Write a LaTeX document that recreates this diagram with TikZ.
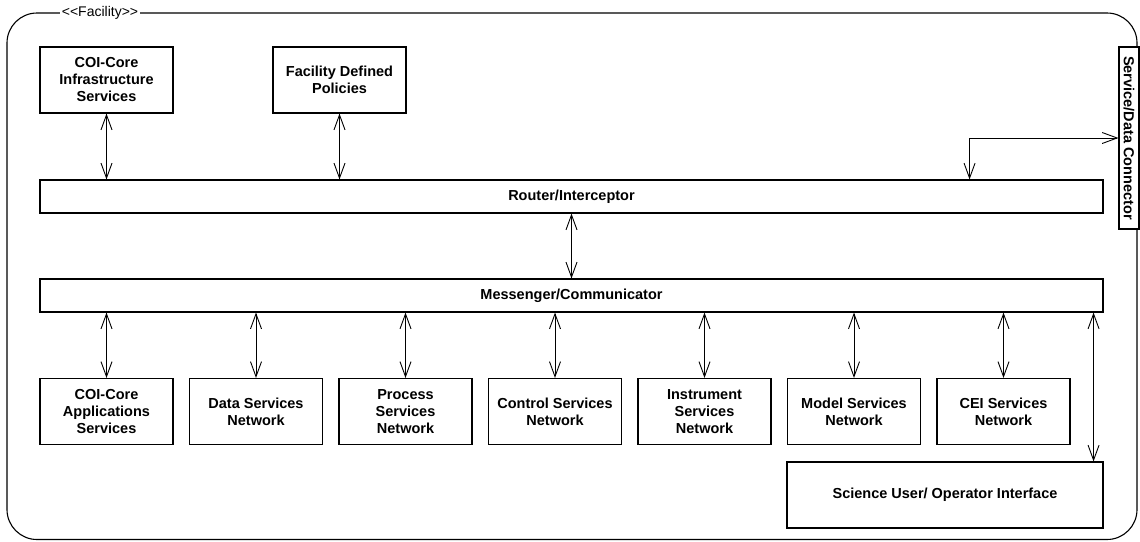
\documentclass[tikz,border=0pt]{standalone}
\usepackage{fontspec}
\setmainfont{Liberation Sans}
\usetikzlibrary{arrows.meta}
\begin{document}
\begin{tikzpicture}[x=1pt,y=-1pt,
  box/.style={draw, line width=1.1pt, fill=white, inner sep=0pt, align=center,
    font=\fontsize{14.5}{17}\selectfont\bfseries},
  smallbox/.style={box, minimum width=133pt, minimum height=66pt},
  bar/.style={box, minimum width=1063pt, minimum height=33pt},
  link/.style={line width=0.9pt, {Straight Barb[length=15pt,width=11pt]}-{Straight Barb[length=15pt,width=11pt]}},
  frame/.style={draw, line width=1.1pt, rounded corners=30pt}]
\useasboundingbox (0,0) rectangle (1140,541);
\fill[white] (0,0) rectangle (1140,541);

% facility frame
\draw[frame] (7,13) rectangle (1137,539.5);
\node[fill=white, inner xsep=2pt, inner ysep=1pt, font=\fontsize{14}{16}\selectfont] (fac) at (100,13) {<\kern0pt<Facility>\kern0pt>};

% top services
\node[smallbox] (infra) at (106.5,80) {COI-Core\\Infrastructure\\Services};
\node[smallbox] (policy) at (339.5,80) {Facility Defined\\Policies};

% buses
\node[bar] (router) at (571.5,196.5) {Router/Interceptor};
\node[bar] (msg) at (571.5,295.5) {Messenger/Communicator};

% connector on the frame edge
\node[box, minimum width=20pt, minimum height=182pt] (conn) at (1129,138) {};
\node[rotate=-90, font=\fontsize{14.5}{17}\selectfont\bfseries] (connlabel) at (conn.center) {Service/Data Connector};

% bottom services
\node[smallbox] (apps) at (106.5,411.5) {COI-Core\\Applications\\Services};
\node[smallbox] (data) at (256,411.5) {Data Services\\Network};
\node[smallbox] (proc) at (405.5,411.5) {Process\\Services\\Network};
\node[smallbox] (ctrl) at (555,411.5) {Control Services\\Network};
\node[smallbox] (inst) at (704.5,411.5) {Instrument\\Services\\Network};
\node[smallbox] (model) at (854,411.5) {Model Services\\Network};
\node[smallbox] (cei) at (1003.5,411.5) {CEI Services\\Network};
\node[box, minimum width=316pt, minimum height=66pt] (sci) at (945,495) {Science User/ Operator Interface};

% connectors
\draw[link] (infra.south) -- (infra.south |- router.north);
\draw[link] (policy.south) -- (policy.south |- router.north);
\draw[link] (conn.west) -| ([xshift=-134pt]router.north east);
\draw[link] (router.south) -- (msg.north);
\foreach \b in {apps,data,proc,ctrl,inst,model,cei}
  \draw[link] (\b.north |- msg.south) -- (\b.north);
\draw[link] ([xshift=-10pt]sci.north east |- msg.south) -- ([xshift=-10pt]sci.north east);
\end{tikzpicture}
\end{document}
